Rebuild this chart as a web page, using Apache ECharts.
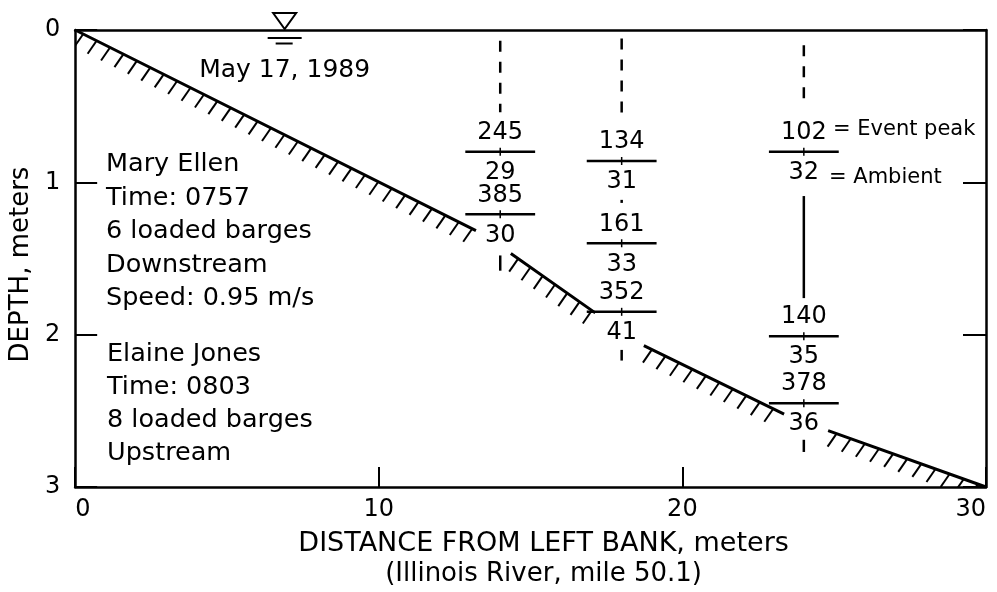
<!DOCTYPE html>
<html>
<head>
<meta charset="utf-8">
<script src="https://cdn.jsdelivr.net/npm/echarts@6/dist/echarts.min.js"></script>
<style>
  html, body { margin: 0; padding: 0; background: #fff; }
  #chart { width: 997px; height: 592px; }
</style>
</head>
<body>
<div id="chart"></div>
<script>
// ---- Data ----
const xTicks = [0, 10, 20, 30];
const yTicks = [0, 1, 2, 3];

// River bed profile (distance from left bank, depth); null = gap behind labels
const bedX     = [0, 13.2, null, 14.35, 17.13, null, 18.73, 23.35, null, 24.8, 30];
const bedDepth = [0, 1.317, null, 1.467, 1.857, null, 2.072, 2.521, null, 2.63, 3];

// Sampling verticals
const stationX        = [14, 18, 24];
const stationTopStart = [0.07, 0.055, 0.10];
const stationTopEnd   = [0.54, 0.60, 0.51];

// Samples: station, depth, event peak, ambient
const sampleX     = [14, 14, 18, 18, 18, 24, 24, 24];
const sampleDepth = [0.80, 1.21, 0.86, 1.40, 1.85, 0.80, 2.01, 2.45];
const eventPeak   = [245, 385, 134, 161, 352, 102, 140, 378];
const ambient     = [29, 30, 31, 33, 41, 32, 35, 36];

// Other vertical pieces: [x, from depth, to depth]
const solidPieces = [[24, 1.09, 1.76], [14, 1.48, 1.58], [18, 2.10, 2.17], [24, 2.69, 2.77], [18, 1.115, 1.135]];

// Water surface
const waterX = 6.9;
const dateText = 'May 17, 1989';
const vessel1 = ['Mary Ellen', 'Time: 0757', '6 loaded barges', 'Downstream', 'Speed: 0.95 m/s'];
const vessel2 = ['Elaine Jones', 'Time: 0803', '8 loaded barges', 'Upstream'];
const legendPeak = '= Event peak';
const legendAmbient = '= Ambient';
const xName = ['DISTANCE FROM LEFT BANK, meters', '(Illinois River, mile 50.1)'];
const yName = 'DEPTH, meters';

// ---- Build ----
const FONT = '"DejaVu Sans", sans-serif';
const bedData = bedX.map((x, i) => (x === null ? [null, null] : [x, bedDepth[i]]));
const bedSegments = [];
for (let i = 0; i < bedX.length - 1; i++) {
  if (bedX[i] !== null && bedX[i + 1] !== null) bedSegments.push([bedX[i], bedDepth[i], bedX[i + 1], bedDepth[i + 1]]);
}
const sampleData = sampleX.map((x, i) => [x, sampleDepth[i], eventPeak[i], ambient[i]]);
const dashedData = stationX.map((x, i) => [x, stationTopStart[i], stationTopEnd[i]]);

const chart = echarts.init(document.getElementById('chart'), null, { renderer: 'canvas' });

const axisLine = { show: true, onZero: false, lineStyle: { color: '#000', width: 2.5 } };

chart.setOption({
  backgroundColor: '#fff',
  animation: false,
  grid: { left: 70, right: 11, top: 30, bottom: 102 },
  xAxis: [{
    type: 'value', min: xTicks[0], max: xTicks[xTicks.length - 1], interval: 10,
    position: 'bottom',
    axisLine,
    axisTick: { show: true, inside: true, length: 20, lineStyle: { color: '#000', width: 2 } },
    axisLabel: { color: '#000', fontSize: 24, fontFamily: FONT, margin: 11, alignMinLabel: 'left', alignMaxLabel: 'right' },
    splitLine: { show: false },
    name: '{a|' + xName[0] + '}\n{b|' + xName[1] + '}',
    nameLocation: 'middle',
    nameGap: 42,
    nameTextStyle: {
      color: '#000', fontFamily: FONT, padding: [0, 0, 0, 26],
      rich: {
        a: { fontSize: 27, fontFamily: FONT, color: '#000', lineHeight: 30, align: 'center' },
        b: { fontSize: 26, fontFamily: FONT, color: '#000', lineHeight: 30, align: 'center' }
      }
    }
  }, {
    type: 'value', min: 0, max: 30, position: 'top',
    axisLine, axisTick: { show: false }, axisLabel: { show: false }, splitLine: { show: false }
  }],
  yAxis: [{
    type: 'value', min: yTicks[0], max: yTicks[yTicks.length - 1], interval: 1, inverse: true,
    position: 'left',
    axisLine,
    axisTick: { show: true, inside: true, length: 22, lineStyle: { color: '#000', width: 2 } },
    axisLabel: { color: '#000', fontSize: 24, fontFamily: FONT, margin: 15 },
    splitLine: { show: false },
    name: yName, nameLocation: 'middle', nameGap: 40,
    nameTextStyle: { color: '#000', fontSize: 26, fontFamily: FONT, padding: [0, 12, 0, 0] }
  }, {
    type: 'value', min: 0, max: 3, interval: 1, inverse: true, position: 'right',
    axisLine,
    axisTick: { show: true, inside: true, length: 23, lineStyle: { color: '#000', width: 2 } },
    axisLabel: { show: false }, splitLine: { show: false }
  }],
  series: [
    {
      name: 'bed', type: 'line', data: bedData, connectNulls: false,
      showSymbol: false, symbol: 'none',
      lineStyle: { color: '#000', width: 3 }, silent: true, z: 3
    },
    {
      name: 'hatch', type: 'custom', data: bedSegments, clip: true, silent: true,
      renderItem(params, api) {
        const p1 = api.coord([api.value(0), api.value(1)]);
        const p2 = api.coord([api.value(2), api.value(3)]);
        const dx = p2[0] - p1[0], dy = p2[1] - p1[1];
        const len = Math.sqrt(dx * dx + dy * dy);
        const step = 15;
        const children = [];
        for (let s = step * 0.6; s <= len; s += step) {
          const t = s / len;
          const x = p1[0] + dx * t, y = p1[1] + dy * t;
          children.push({ type: 'line', shape: { x1: x, y1: y, x2: x - 9, y2: y + 13 },
            style: { stroke: '#000', lineWidth: 2 } });
        }
        return { type: 'group', children };
      }
    },
    {
      name: 'dashed', type: 'custom', data: dashedData, silent: true,
      renderItem(params, api) {
        const a = api.coord([api.value(0), api.value(1)]);
        const b = api.coord([api.value(0), api.value(2)]);
        return { type: 'line', shape: { x1: a[0], y1: a[1], x2: b[0], y2: b[1] },
          style: { stroke: '#000', lineWidth: 2.5, lineDash: [11, 10] } };
      }
    },
    {
      name: 'solid', type: 'custom', data: solidPieces, silent: true,
      renderItem(params, api) {
        const a = api.coord([api.value(0), api.value(1)]);
        const b = api.coord([api.value(0), api.value(2)]);
        return { type: 'line', shape: { x1: a[0], y1: a[1], x2: b[0], y2: b[1] },
          style: { stroke: '#000', lineWidth: 2.5 } };
      }
    },
    {
      name: 'samples', type: 'custom', data: sampleData, silent: true, z: 4,
      renderItem(params, api) {
        const x = api.value(0), d = api.value(1);
        const c = api.coord([x, d]);
        const l = api.coord([x - 1.15, d]);
        const r = api.coord([x + 1.15, d]);
        return { type: 'group', children: [
          { type: 'line', shape: { x1: l[0], y1: c[1], x2: r[0], y2: c[1] }, style: { stroke: '#000', lineWidth: 2.5 } },
          { type: 'line', shape: { x1: c[0], y1: c[1] - 4, x2: c[0], y2: c[1] + 4 }, style: { stroke: '#000', lineWidth: 1.5 } },
          { type: 'text', x: c[0], y: c[1] - 19, style: { text: String(api.value(2)), fill: '#000', font: '24px ' + FONT, align: 'center', verticalAlign: 'middle' } },
          { type: 'text', x: c[0], y: c[1] + 21, style: { text: String(api.value(3)), fill: '#000', font: '24px ' + FONT, align: 'center', verticalAlign: 'middle' } }
        ] };
      }
    },
    {
      name: 'water', type: 'custom', data: [[waterX, 0]], clip: false, silent: true, z: 5,
      renderItem(params, api) {
        const c = api.coord([api.value(0), api.value(1)]);
        return { type: 'group', children: [
          { type: 'polygon', shape: { points: [[c[0] - 11.5, c[1] - 17], [c[0] + 11.5, c[1] - 17], [c[0], c[1] - 1]] },
            style: { fill: '#fff', stroke: '#000', lineWidth: 2 } },
          { type: 'line', shape: { x1: c[0] - 17, y1: c[1] + 8, x2: c[0] + 17, y2: c[1] + 8 }, style: { stroke: '#000', lineWidth: 2 } },
          { type: 'line', shape: { x1: c[0] - 9, y1: c[1] + 13.5, x2: c[0] + 8, y2: c[1] + 13.5 }, style: { stroke: '#000', lineWidth: 2 } },
          { type: 'text', x: c[0], y: c[1] + 40, style: { text: dateText, fill: '#000', font: '25px ' + FONT, align: 'center', verticalAlign: 'middle' } }
        ] };
      }
    }
  ],
  graphic: [
    { type: 'text', x: 106, y: 148, silent: true,
      style: { text: vessel1.join('\n'), fill: '#000', font: '25.5px ' + FONT, lineHeight: 33.5, align: 'left', verticalAlign: 'top' } },
    { type: 'text', x: 107, y: 338.5, silent: true,
      style: { text: vessel2.join('\n'), fill: '#000', font: '25.5px ' + FONT, lineHeight: 32.7, align: 'left', verticalAlign: 'top' } },
    { type: 'text', x: 833, y: 130, silent: true,
      style: { text: legendPeak, fill: '#000', font: '21px ' + FONT, align: 'left', verticalAlign: 'middle' } },
    { type: 'text', x: 829, y: 178, silent: true,
      style: { text: legendAmbient, fill: '#000', font: '21px ' + FONT, align: 'left', verticalAlign: 'middle' } }
  ]
});
</script>
</body>
</html>
